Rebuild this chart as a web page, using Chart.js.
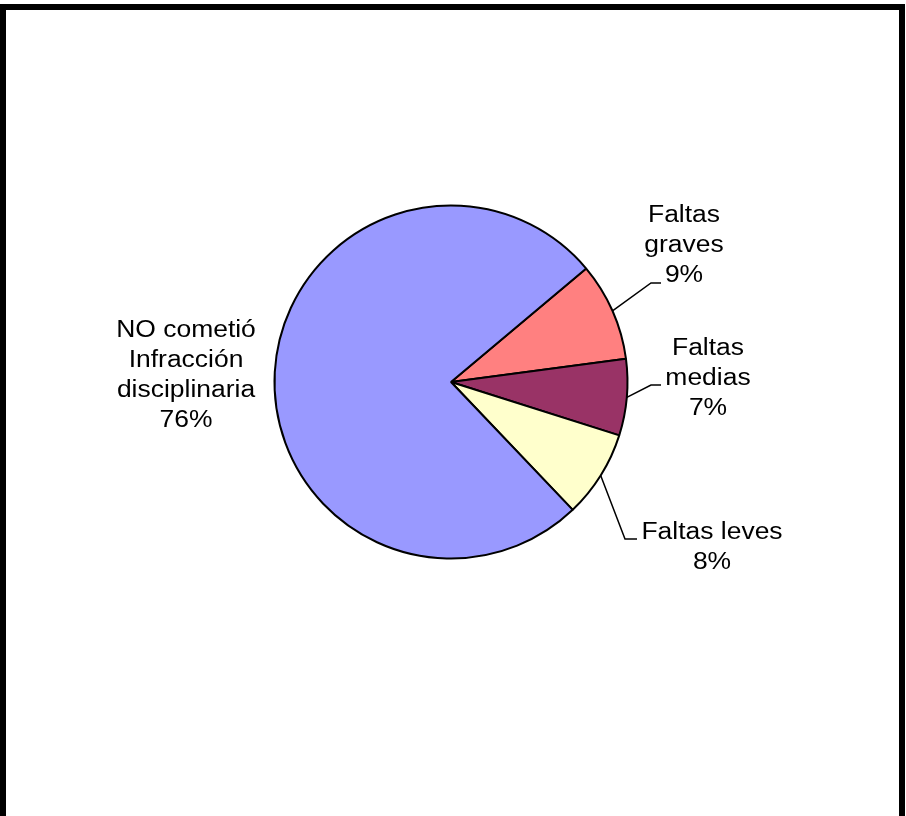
<!DOCTYPE html>
<html>
<head>
<meta charset="utf-8">
<script src="https://cdn.jsdelivr.net/npm/chart.js@4"></script>
<style>
    body { margin: 0; background: #fff; overflow: hidden; }
    #wrap { position: relative; width: 906px; height: 816px; }
    #frame {
        position: absolute; left: 0; top: 4px; width: 905px; height: 840px;
        border: 6px solid #000; box-sizing: border-box; pointer-events: none;
    }
</style>
</head>
<body>
<div id="wrap">
    <canvas id="myChart" width="906" height="816"></canvas>
    <div id="frame"></div>
</div>
<script>
// data (percent of cases)
const categories = ['Faltas graves', 'Faltas medias', 'Faltas leves', 'NO cometió Infracción disciplinaria'];
const values = [9, 7, 8, 76];
const labelLines = [
    ['Faltas', 'graves', '9%'],
    ['Faltas', 'medias', '7%'],
    ['Faltas leves', '8%'],
    ['NO cometió', 'Infracción', 'disciplinaria', '76%']
];
const colors = ['#FF8080', '#993366', '#FFFFCC', '#9999FF'];

// label placement relative to the pie centre: text x, first baseline y, leader elbow (null = no leader)
const labelLayout = [
    { x: 233, y: -160, elbow: [200, -99], end: [210, -99] },
    { x: 257, y: -27, elbow: [200, 3], end: [210, 3] },
    { x: 261, y: 157, elbow: [174, 157], end: [186, 157] },
    { x: -265, y: -45, elbow: null }
];

const pieLabels = {
    id: 'pieLabels',
    afterDatasetsDraw(chart) {
        const ctx = chart.ctx;
        const meta = chart.getDatasetMeta(0);
        ctx.save();
        meta.data.forEach((arc, i) => {
            const p = arc.getProps(['x', 'y', 'startAngle', 'endAngle', 'outerRadius'], true);
            const lay = labelLayout[i];
            if (lay.elbow) {
                const mid = (p.startAngle + p.endAngle) / 2;
                ctx.beginPath();
                ctx.strokeStyle = '#000';
                ctx.lineWidth = 1.5;
                ctx.moveTo(p.x + Math.cos(mid) * p.outerRadius, p.y + Math.sin(mid) * p.outerRadius);
                ctx.lineTo(p.x + lay.elbow[0], p.y + lay.elbow[1]);
                ctx.lineTo(p.x + lay.end[0], p.y + lay.end[1]);
                ctx.stroke();
            }
            ctx.fillStyle = '#000';
            ctx.font = '23px "Liberation Sans", Arial, sans-serif';
            ctx.textAlign = 'center';
            ctx.textBaseline = 'alphabetic';
            labelLines[i].forEach((line, k) => {
                ctx.save();
                ctx.translate(p.x + lay.x, p.y + lay.y + k * 30);
                ctx.scale(1.15, 1);
                ctx.fillText(line, 0, 0);
                ctx.restore();
            });
        });
        ctx.restore();
    }
};

const ctx = document.getElementById('myChart').getContext('2d');
new Chart(ctx, {
    type: 'pie',
    data: {
        labels: categories,
        datasets: [{
            data: values,
            backgroundColor: colors,
            borderColor: '#000',
            borderWidth: 2
        }]
    },
    options: {
        responsive: false,
        devicePixelRatio: 1,
        animation: false,
        rotation: 50,
        layout: { padding: { left: 273.5, right: 277.5, top: 204.5, bottom: 256.5 } },
        plugins: {
            legend: { display: false },
            tooltip: { enabled: false }
        }
    },
    plugins: [pieLabels]
});
</script>
</body>
</html>
